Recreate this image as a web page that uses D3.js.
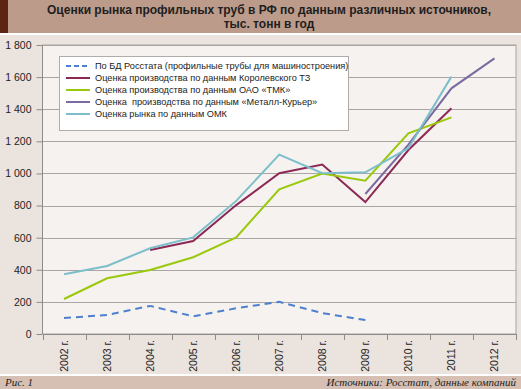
<!DOCTYPE html>
<html><head><meta charset="utf-8">
<script src="https://cdn.jsdelivr.net/npm/d3@7"></script>
<style>
html,body{margin:0;padding:0;background:#ebe3de;}
svg{display:block;}
.pre{white-space:pre;}
</style></head>
<body>
<svg id="chart" width="521" height="389"></svg>
<script>
const years = ["2002 г.","2003 г.","2004 г.","2005 г.","2006 г.","2007 г.","2008 г.","2009 г.","2010 г.","2011 г.","2012 г."];
const yTicks = [0,200,400,600,800,1000,1200,1400,1600,1800];
const seriesNames = [
  "По БД Росстата (профильные трубы для машиностроения)",
  "Оценка производства по данным Королевского ТЗ",
  "Оценка производства по данным ОАО «ТМК»",
  "Оценка  производства по данным «Металл-Курьер»",
  "Оценка рынка по данным ОМК"
];
const seriesColors = ["#4f7fcf","#8c2a55","#9ac80a","#7c6aa0","#7cbfcb"];
const rosstat  = [100,118,175,110,160,200,130,87,null,null,null];
const korolev  = [null,null,523,579,803,1001,1055,822,1146,1406,null];
const tmk      = [218,347,399,478,601,901,999,955,1250,1349,null];
const metall   = [null,null,null,null,null,null,null,872,1180,1530,1717];
const omk      = [372,424,534,602,829,1117,1001,1007,1157,1603,null];
const seriesValues = [rosstat, korolev, tmk, metall, omk];

(function(){
const svg = d3.select("#chart");
const W = 521, H = 389;
svg.append("rect").attr("x",0).attr("y",0).attr("width",W).attr("height",33).attr("fill","#bc9b8b");
svg.append("rect").attr("x",0).attr("y",0).attr("width",8).attr("height",33).attr("fill","#5e2413");
svg.append("rect").attr("x",0).attr("y",33).attr("width",W).attr("height",2).attr("fill","#ffffff");
svg.append("rect").attr("x",0).attr("y",35).attr("width",W).attr("height",339).attr("fill","#ebe3de");
svg.append("rect").attr("x",0).attr("y",374).attr("width",W).attr("height",2).attr("fill","#ffffff");
svg.append("rect").attr("x",0).attr("y",376).attr("width",W).attr("height",13).attr("fill","#d6c0b3");

const title = svg.append("text").attr("text-anchor","middle")
  .attr("font-family","Liberation Sans, Arial, sans-serif").attr("font-weight","bold")
  .attr("font-size","12px").attr("fill","#1e1e1e");
title.append("tspan").attr("x",269).attr("y",14).text("Оценки рынка профильных труб в РФ по данным различных источников,");
title.append("tspan").attr("x",269).attr("y",28).text("тыс. тонн в год");

svg.append("text").attr("x",5).attr("y",386).attr("font-family","Liberation Serif, Times New Roman, serif")
  .attr("font-style","italic").attr("font-size","11px").attr("fill","#222").text("Рис. 1");
svg.append("text").attr("x",516).attr("y",386).attr("text-anchor","end").attr("font-family","Liberation Serif, Times New Roman, serif")
  .attr("font-style","italic").attr("font-size","11px").attr("fill","#222").text("Источники: Росстат, данные компаний");

const pL = 42.5, pR = 516, pT = 45, pB = 334;
const x = d3.scaleBand().domain(years).range([pL, pR]).padding(0);
const y = d3.scaleLinear().domain([0,1800]).range([pB, pT]);

svg.append("rect").attr("x",pL).attr("y",pT).attr("width",pR-pL).attr("height",pB-pT)
  .attr("fill","#f5f2ef").attr("stroke","#a9a5a2").attr("stroke-width",1);

svg.append("g").selectAll("line").data(yTicks.filter(d=>d>0)).join("line")
  .attr("x1",pL).attr("x2",pR).attr("y1",d=>Math.round(y(d))+0.5).attr("y2",d=>Math.round(y(d))+0.5)
  .attr("stroke","#aaa6a3").attr("stroke-width",1);

const yAxis = d3.axisLeft(y).tickValues(yTicks).tickSize(6).tickPadding(5)
  .tickFormat(d=>d3.format(",")(d).replace(",", " "));
const gy = svg.append("g").attr("transform",`translate(${pL},0)`).call(yAxis);
gy.selectAll("text").attr("font-family","Liberation Sans, Arial, sans-serif").attr("font-size","10.5px").attr("fill","#222");
gy.selectAll("line,path").attr("stroke","#8f8b88");
gy.select(".domain").attr("d",`M0,${pT}V${pB}`);

const xAxis = d3.axisBottom(x).tickSize(0).tickFormat(d=>d);
const gx = svg.append("g").attr("transform",`translate(0,${pB})`).call(xAxis);
gx.select(".domain").attr("stroke","#8f8b88");
gx.selectAll(".tick text").attr("font-family","Liberation Sans, Arial, sans-serif").attr("font-size","10.5px").attr("fill","#222")
  .attr("transform","rotate(-90)").attr("text-anchor","end").attr("x",-6).attr("y",0).attr("dy","0.35em").attr("dx",0);
const bounds = years.map(d=>x(d)).concat([pR]);
svg.append("g").selectAll("line").data(bounds).join("line")
  .attr("x1",d=>Math.round(d)+0.5).attr("x2",d=>Math.round(d)+0.5).attr("y1",pB).attr("y2",pB+6)
  .attr("stroke","#8f8b88");

const line = d3.line().defined(d=>d.v!==null).x(d=>x(d.year)+x.bandwidth()/2).y(d=>y(d.v));
seriesValues.forEach((vals,i)=>{
  const data = vals.map((v,j)=>({year:years[j], v}));
  svg.append("path").datum(data).attr("d",line).attr("fill","none")
    .attr("stroke",seriesColors[i]).attr("stroke-width",2)
    .attr("stroke-dasharray", i===0 ? "7,5" : null);
});

const lg = svg.append("g");
lg.append("rect").attr("x",59.5).attr("y",56.5).attr("width",289).attr("height",74)
  .attr("fill","#ffffff").attr("stroke","#b0aca9");
seriesNames.forEach((n,i)=>{
  const yy = 66 + i*12;
  lg.append("line").attr("x1",66).attr("x2",90).attr("y1",yy).attr("y2",yy)
    .attr("stroke",seriesColors[i]).attr("stroke-width",2).attr("stroke-dasharray", i===0?"5,3":null);
  lg.append("text").attr("class","pre").attr("x",95).attr("y",yy).attr("dy","0.35em")
    .attr("font-family","Liberation Sans, Arial, sans-serif").attr("font-size","9.2px").attr("fill","#222").text(n);
});
})();
</script>
</body></html>
